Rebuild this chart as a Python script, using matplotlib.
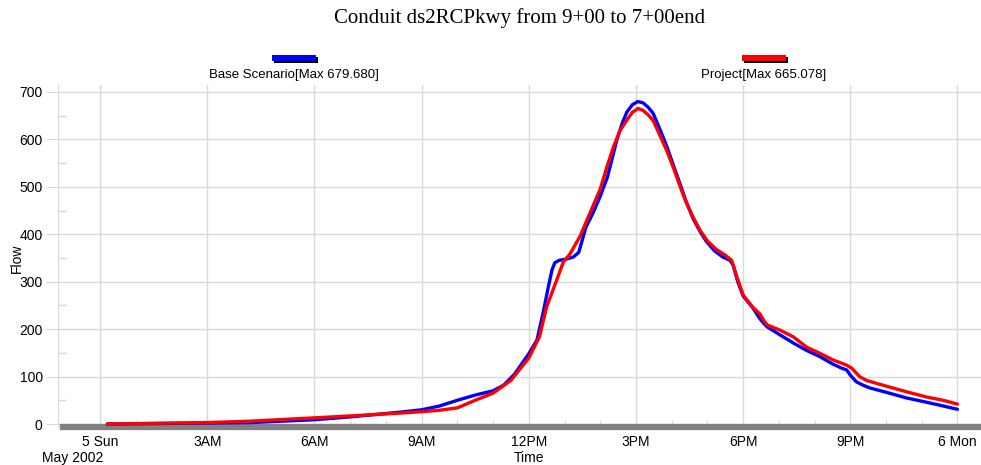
import numpy as np
import matplotlib
matplotlib.use("Agg")
import matplotlib.pyplot as plt
from matplotlib.patches import Rectangle

# hours since 5 May 2002 00:00
base_hours = [0.2, 3.0, 4.2, 6.0, 7.0, 8.4, 9.0, 9.5, 10.0, 10.5, 11.0, 11.3, 11.6, 12.0, 12.23,
              12.4, 12.55, 12.65, 12.73, 12.85, 13.07, 13.25, 13.4, 13.6, 13.8, 14.0, 14.2, 14.47,
              14.62, 14.75, 14.9, 15.05, 15.2, 15.35, 15.48, 15.65,
              15.87, 16.05, 16.24, 16.4, 16.6, 16.8, 16.97, 17.2, 17.43, 17.63, 17.72, 17.85, 18.0,
              18.28, 18.47, 18.58, 18.67, 19.03,
              19.4, 19.78, 20.15, 20.52, 20.75, 20.9, 21.0, 21.17, 21.35, 21.55, 22.0, 22.57, 23.13,
              23.6, 24.0]
base_flow = [0, 2, 3, 9, 15, 25, 30, 38, 50, 61, 70, 82, 105, 148, 177,
             234, 290, 325, 340, 345, 348, 352, 362, 415, 445, 480, 520, 600,
             635, 658, 673, 679.68, 677, 667, 655, 625,
             584, 545, 505, 470, 433, 405, 385, 365, 352, 345, 335, 300, 270,
             244, 222, 212, 205, 188,
             171, 155, 142, 126, 118, 114, 103, 89, 82, 76, 67, 55, 46,
             38, 31]

proj_hours = [0.2, 3.0, 4.2, 6.0, 7.0, 8.4, 9.0, 9.5, 10.0, 10.5, 11.0, 11.5, 12.0, 12.3,
              12.5, 12.78, 12.97, 13.15, 13.43, 13.63, 13.8, 14.0, 14.2, 14.37, 14.55, 14.75, 14.9,
              15.06, 15.2, 15.35, 15.48, 15.65,
              15.87, 16.05, 16.24, 16.4, 16.6, 16.8, 17.0, 17.25, 17.5, 17.68, 17.85, 18.0, 18.25,
              18.47, 18.58, 18.67, 19.03, 19.4,
              19.78, 20.15, 20.52, 20.9, 21.05, 21.26, 21.45, 21.63, 22.0, 22.57, 23.13, 23.6, 24.0]
proj_flow = [0, 3, 6, 13, 17, 23, 26, 29, 34, 50, 65, 92, 139, 184,
             247, 303, 342, 358, 395, 430, 460, 495, 545, 584, 618, 641, 657,
             665.078, 661, 651, 640, 612,
             575, 540, 500, 468, 436, 408, 386, 368, 356, 345, 305, 272, 248,
             232, 218, 209, 198, 184,
             162, 149, 135, 124, 117, 100, 92, 88, 80, 68, 57, 50, 42]

tick_hours = [0, 3, 6, 9, 12, 15, 18, 21, 24]
tick_labels = ["5 Sun", "3AM", "6AM", "9AM", "12PM", "3PM", "6PM", "9PM", "6 Mon"]
series_names = ["Base Scenario", "Project"]
series_colors = ["#0000FF", "#FF0000"]

plt.rcParams['font.family'] = ['Liberation Sans', 'DejaVu Sans']

W, H = 981, 465
fig = plt.figure(figsize=(W / 100, H / 100), dpi=100)

# axes in pixel coordinates: left 58, right 981, top 85, bottom 427
ax = fig.add_axes([58 / W, 1 - 427 / H, (981 - 58) / W, (427 - 85) / H])

ax.plot(base_hours, base_flow, color=series_colors[0], lw=2.4,
        solid_joinstyle='round', solid_capstyle='round', zorder=3)
ax.plot(proj_hours, proj_flow, color=series_colors[1], lw=2.4,
        solid_joinstyle='round', solid_capstyle='round', zorder=4)

ax.set_xlim(-1.18, 24.66)
ax.set_ylim(-6.3, 714.6)

grid_col = "#d9d9d9"
ax.set_xticks(tick_hours)
ax.set_xticklabels(tick_labels)
ax.set_xticks(np.arange(0, 25, 1), minor=True)
ax.set_yticks(np.arange(0, 701, 100))
ax.set_yticks(np.arange(50, 701, 100), minor=True)
ax.grid(True, which='major', color=grid_col, lw=1.0)
ax.set_axisbelow(True)

ax.tick_params(axis='x', which='major', length=0, pad=6, labelsize=10)
ax.tick_params(axis='x', which='minor', direction='in', length=5, color=grid_col, width=1)
ax.tick_params(axis='y', which='major', direction='out', length=9, color=grid_col, labelsize=10, pad=2)
ax.tick_params(axis='y', which='minor', direction='in', length=6, color=grid_col, width=1)

for s in ['top', 'right']:
    ax.spines[s].set_visible(False)
ax.spines['left'].set_color(grid_col)
ax.spines['bottom'].set_color('#808080')
ax.spines['bottom'].set_linewidth(4.5)
ax.spines['bottom'].set_bounds(-1.05, 24.66)

ax.set_ylabel("Flow", fontsize=10, va='center')
ax.yaxis.set_label_coords((17 - 58) / (981 - 58), (427 - 258) / (427 - 85))
ax.set_xlabel("Time", fontsize=10, va='center')
ax.xaxis.set_label_coords((529 - 58) / (981 - 58), -(458 - 427) / (427 - 85))
fig.text(42 / W, 1 - 458 / H, "May 2002", fontsize=10, ha='left', va='center')

fig.text(520 / W, 1 - 18 / H, "Conduit ds2RCPkwy from 9+00 to 7+00end",
         fontsize=15, family='Liberation Serif', ha='center', va='center')

# legend entries above the plot
legend_centers = [294, 764]
for name, col, cx, vals in zip(series_names, series_colors, legend_centers, [base_flow, proj_flow]):
    x0 = (cx - 22) / W
    y0 = 1 - 61 / H
    fig.patches.append(Rectangle((x0 + 2 / W, y0 - 2 / H), 44 / W, 6 / H, transform=fig.transFigure,
                                 facecolor='black', edgecolor='none', zorder=1))
    fig.patches.append(Rectangle((x0, y0), 44 / W, 6 / H, transform=fig.transFigure,
                                 facecolor=col, edgecolor='none', zorder=2))
    fig.text(cx / W, 1 - 75 / H, f"{name}[Max {max(vals):.3f}]", fontsize=9.5,
             ha='center', va='center')

fig.savefig("out.png", dpi=100)
